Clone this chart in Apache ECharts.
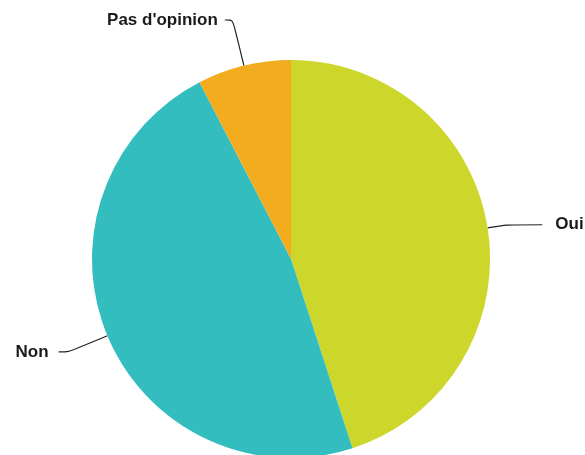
<!DOCTYPE html>
<html>
<head>
<meta charset="utf-8">
<script src="https://cdn.jsdelivr.net/npm/echarts@6/dist/echarts.min.js"></script>
<style>html,body{margin:0;padding:0;background:#fff;}#c{width:585px;height:455px;}</style>
</head>
<body>
<div id="c"></div>
<script>
const categories = ['Oui', 'Non', "Pas d'opinion"];
const values = [45.0, 47.4, 7.6];
const colors = ['#CDD62A', '#33BDBE', '#F4AC1F'];
const lineLengths = [[20, 35], [42, 10], [47, 8]];
const labelGaps = [13, 10, 7];

const chart = echarts.init(document.getElementById('c'), null, {renderer: 'canvas'});
chart.setOption({
  animation: false,
  series: [{
    type: 'pie',
    center: [291, 259],
    radius: 199,
    startAngle: 90,
    clockwise: true,
    avoidLabelOverlap: false,
    label: {
      show: true,
      color: '#1a1a1a',
      fontFamily: 'Liberation Sans, Arial, sans-serif',
      fontWeight: 'bold',
      fontSize: 17,
      formatter: '{b}'
    },
    labelLine: {
      show: true,
      smooth: 0.3,
      lineStyle: {color: '#222', width: 1.2}
    },
    itemStyle: {borderWidth: 0},
    data: categories.map((c, i) => ({
      name: c,
      value: values[i],
      itemStyle: {color: colors[i]},
      label: {distanceToLabelLine: labelGaps[i]},
      labelLine: {length: lineLengths[i][0], length2: lineLengths[i][1]}
    }))
  }]
});
</script>
</body>
</html>
